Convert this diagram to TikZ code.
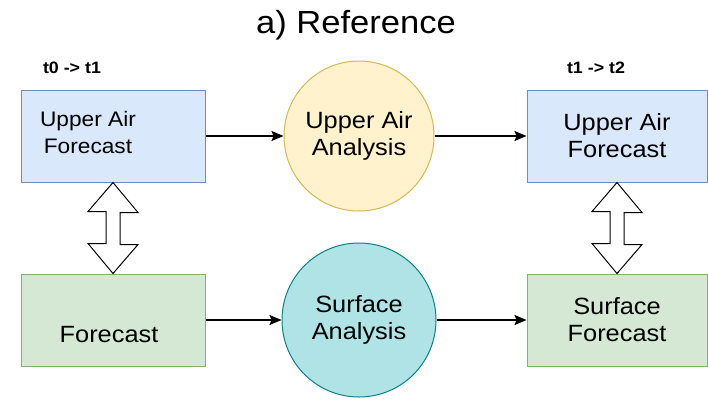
\documentclass[tikz,border=0pt]{standalone}
\usepackage{fontspec}
\setmainfont{Liberation Sans}[FakeStretch=1.08]
\usetikzlibrary{arrows.meta,calc}
\definecolor{upfill}{HTML}{DAE8FC}
\definecolor{updraw}{HTML}{6C8EBF}
\definecolor{uafill}{HTML}{FFF2CC}
\definecolor{uadraw}{HTML}{D6B656}
\definecolor{sffill}{HTML}{D5E8D4}
\definecolor{sfdraw}{HTML}{82B366}
\definecolor{safill}{HTML}{B0E3E6}
\definecolor{sadraw}{HTML}{0E8088}
\tikzset{
  fbox/.style={draw, line width=1pt, minimum height=92pt, inner sep=0pt, align=center, font=\fontsize{23.5}{27}\selectfont},
  anl/.style={circle, draw, line width=1pt, inner sep=0pt, align=center, font=\fontsize{23.5}{27}\selectfont},
  txt/.style={inner sep=0pt, align=center, font=\fontsize{23.5}{27}\selectfont},
  tlabel/.style={inner sep=0pt, font=\fontsize{16.5}{19}\selectfont\bfseries},
  flow/.style={line width=1.3pt, -{Stealth[length=12pt,width=10pt,inset=2pt]}},
  dbl/.style={draw, line width=1pt, fill=white, line join=miter}
}
\begin{document}
\begin{tikzpicture}[x=1pt,y=-1pt]
  \useasboundingbox (0,0) rectangle (708,399);
  \node[anchor=base, inner sep=0pt, font=\fontsize{32}{36}\selectfont] (ttl) at (356,33) {a) Reference};
  \node[tlabel] (t01) at (72,68) {t0 -> t1};
  \node[tlabel] (t12) at (596,68) {t1 -> t2};
  \node[fbox, minimum width=184pt, fill=upfill, draw=updraw] (uaf0) at (113,136) {};
  \node[txt, font=\fontsize{21}{27}\selectfont] (uaf0t) at (88,132.5) {Upper Air\\Forecast};
  \node[anl, minimum size=150pt, fill=uafill, draw=uadraw] (uaa) at (359,136) {Upper Air\\Analysis};
  \node[fbox, minimum width=180pt, fill=upfill, draw=updraw] (uaf1) at (617,136) {Upper Air\\Forecast};
  \node[fbox, minimum width=184pt, fill=sffill, draw=sfdraw] (sf0) at (113,320) {};
  \node[txt] (sf0t) at (109,334.5) {Forecast};
  \node[anl, minimum size=154pt, fill=safill, draw=sadraw] (sfa) at (359,320) {Surface\\Analysis};
  \node[fbox, minimum width=180pt, fill=sffill, draw=sfdraw] (sf1) at (617,320) {Surface\\Forecast};
  \draw[flow] (uaf0.east) -- (uaa);
  \draw[flow] (uaa) -- (uaf1);
  \draw[flow] (sf0.east) -- (sfa);
  \draw[flow] (sfa) -- (sf1);
  \foreach \a/\b in {uaf0/sf0,uaf1/sf1}{
    \draw[dbl] (\a.south) --++ (25,30) --++ (-18,0) --++ (0,32) --++ (18,0) -- (\b.north)
      --++ (-25,-30) --++ (18,0) --++ (0,-32) --++ (-18,0) -- cycle;
  }
\end{tikzpicture}
\end{document}
